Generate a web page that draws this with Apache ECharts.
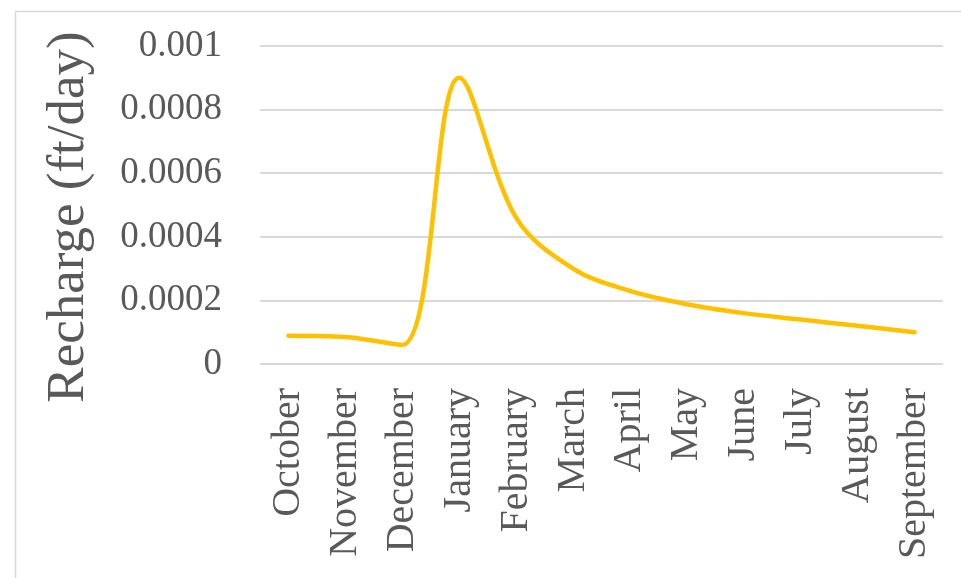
<!DOCTYPE html>
<html>
<head>
<meta charset="utf-8">
<script src="https://cdn.jsdelivr.net/npm/echarts@6/dist/echarts.min.js"></script>
<style>
  html, body { margin: 0; padding: 0; background: #fff; }
  #chart { width: 961px; height: 578px; }
</style>
</head>
<body>
<div id="chart"></div>
<script>
// monthly recharge, water year Oct - Sep
const months = ['October', 'November', 'December', 'January', 'February', 'March',
  'April', 'May', 'June', 'July', 'August', 'September'];
const recharge = [0.000089, 0.000085, 0.00006, 0.0009, 0.00046, 0.0003,
  0.00023, 0.000188, 0.00016, 0.00014, 0.00012, 0.0001];
const yTicks = [0, 0.0002, 0.0004, 0.0006, 0.0008, 0.001];

const serif = "'Palatino Linotype', 'Book Antiqua', Palatino, 'Liberation Serif', serif";

const chart = echarts.init(document.getElementById('chart'));
const option = {
  backgroundColor: '#fff',
  animation: false,
  graphic: [
    {
      type: 'rect',
      left: 13,
      top: 9,
      shape: { width: 1200, height: 1200 },
      style: { fill: 'none', stroke: '#d9d9d9', lineWidth: 1.5 },
      silent: true
    }
  ],
  grid: { left: 260, right: 18, top: 46, bottom: 214 },
  xAxis: {
    type: 'category',
    data: months,
    boundaryGap: true,
    axisLine: { show: false },
    axisTick: { show: false },
    axisLabel: {
      rotate: 90,
      margin: 24,
      interval: 0,
      color: '#595959',
      fontFamily: serif,
      fontSize: 40
    }
  },
  yAxis: {
    type: 'value',
    min: yTicks[0],
    max: yTicks[yTicks.length - 1],
    interval: yTicks[1] - yTicks[0],
    name: 'Recharge (ft/day)',
    nameLocation: 'middle',
    nameRotate: 90,
    nameGap: 164,
    nameTextStyle: {
      color: '#595959',
      fontFamily: serif,
      fontSize: 53,
      padding: [0, 24, 0, 0]
    },
    axisLine: { show: false },
    axisTick: { show: false },
    axisLabel: {
      margin: 38,
      color: '#595959',
      fontFamily: serif,
      fontSize: 37,
      formatter: v => {
        const t = yTicks.find(x => Math.abs(x - v) < 1e-9);
        return String(t !== undefined ? t : v);
      }
    },
    splitLine: { lineStyle: { color: '#d9d9d9', width: 2 } }
  },
  series: [
    {
      name: 'Recharge',
      type: 'line',
      data: recharge,
      smooth: 0.35,
      symbol: 'none',
      lineStyle: { color: '#ffc000', width: 4.5, cap: 'round', join: 'round' }
    }
  ]
};
chart.setOption(option);
</script>
</body>
</html>
